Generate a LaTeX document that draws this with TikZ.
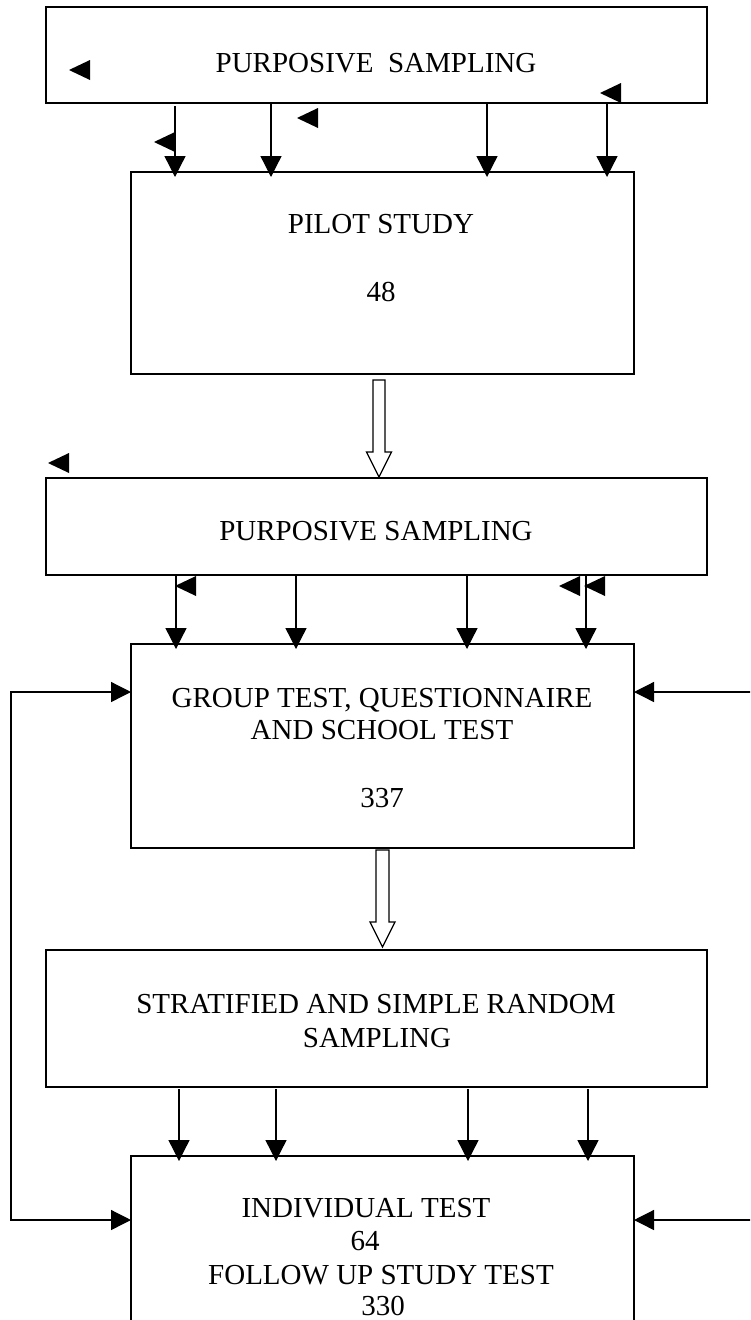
\documentclass[tikz,border=0pt]{standalone}
\usepackage{fontspec}
\setmainfont{Liberation Serif}
\usetikzlibrary{arrows.meta,calc}
\begin{document}
\begin{tikzpicture}[x=1pt,y=-1pt,
  box/.style={draw, line width=2.2pt, rectangle, inner sep=0pt, outer sep=0pt, anchor=north west},
  lbl/.style={anchor=base, inner sep=0pt, outer sep=0pt, font=\fontsize{29}{33}\selectfont},
  arr/.style={line width=1.3pt, -{Triangle[length=21pt,width=21pt]}, shorten >=-5pt},
  side/.style={line width=1.3pt, -{Triangle[length=20pt,width=20pt]}},
  plain/.style={line width=1.3pt},
  hollow/.style={draw, line width=1.3pt, fill=white, line join=miter},
  tri/.pic={\fill (0,0) -- (21,-10) -- (21,10) -- cycle;}]
\useasboundingbox (0,0) rectangle (750,1320);
\clip (0,0) rectangle (750,1320);
\fill[white] (0,0) rectangle (750,1320);

% boxes
\node[box, minimum width=661pt, minimum height=96pt]  (A) at (46,7) {};
\node[box, minimum width=503pt, minimum height=202pt] (B) at (131,172) {};
\node[box, minimum width=661pt, minimum height=97pt]  (C) at (46,478) {};
\node[box, minimum width=503pt, minimum height=204pt] (D) at (131,644) {};
\node[box, minimum width=661pt, minimum height=137pt] (E) at (46,950) {};
\node[box, minimum width=503pt, minimum height=220pt] (F) at (131,1156) {};

% texts
\node[lbl] (tA)  at (376,72)    {PURPOSIVE\ \ SAMPLING};
\node[lbl] (tB1) at (381,233)   {PILOT STUDY};
\node[lbl] (tB2) at (381,301)   {48};
\node[lbl] (tC)  at (376,540)   {PURPOSIVE SAMPLING};
\node[lbl] (tD1) at (382,707)   {GROUP TEST, QUESTIONNAIRE};
\node[lbl] (tD2) at (382,739.5) {AND SCHOOL TEST};
\node[lbl] (tD3) at (382,807)   {337};
\node[lbl] (tE1) at (376,1013)  {STRATIFIED AND SIMPLE RANDOM};
\node[lbl] (tE2) at (377,1047)  {SAMPLING};
\node[lbl] (tF1) at (366,1217)  {INDIVIDUAL TEST};
\node[lbl] (tF2) at (365,1250)  {64};
\node[lbl] (tF3) at (381,1284)  {FOLLOW UP STUDY TEST};
\node[lbl] (tF4) at (383,1315)  {330};

% x positions of the vertical arrows
\coordinate (a1) at (175,0); \coordinate (a2) at (271,0);
\coordinate (a3) at (487,0); \coordinate (a4) at (607,0);
\coordinate (c1) at (176,0); \coordinate (c2) at (296,0);
\coordinate (c3) at (467,0); \coordinate (c4) at (586,0);
\coordinate (e1) at (179,0); \coordinate (e2) at (276,0);
\coordinate (e3) at (468,0); \coordinate (e4) at (588,0);

\draw[arr] ([yshift=-3pt]A.south -| a1) -- (B.north -| a1);
\draw[arr] (A.south -| a2) -- (B.north -| a2);
\draw[arr] (A.south -| a3) -- (B.north -| a3);
\draw[arr] (A.south -| a4) -- (B.north -| a4);

\draw[arr] (C.south -| c1) -- (D.north -| c1);
\draw[arr] (C.south -| c2) -- (D.north -| c2);
\draw[arr] (C.south -| c3) -- (D.north -| c3);
\draw[arr] (C.south -| c4) -- (D.north -| c4);

\draw[arr] ([yshift=-2pt]E.south -| e1) -- (F.north -| e1);
\draw[arr] ([yshift=-2pt]E.south -| e2) -- (F.north -| e2);
\draw[arr] ([yshift=-2pt]E.south -| e3) -- (F.north -| e3);
\draw[arr] ([yshift=-2pt]E.south -| e4) -- (F.north -| e4);

% feedback arrows
\coordinate (Ltop) at (11,692);
\coordinate (Lbot) at (11,1220);
\coordinate (Rtop) at (760,692);
\coordinate (Rbot) at (760,1220);
\draw[plain] ([yshift=-0.65pt]Ltop) -- ([yshift=0.65pt]Lbot);
\draw[side] ([xshift=-0.65pt]Ltop) -- (D.west |- Ltop);
\draw[side] ([xshift=-0.65pt]Lbot) -- (F.west |- Lbot);
\draw[side] (Rtop) -- (D.east |- Rtop);
\draw[side] (Rbot) -- (F.east |- Rbot);

% hollow block arrows
\coordinate (o1) at (379,380);
\draw[hollow] ($(o1)+(-6,0)$) -- ($(o1)+(6,0)$) -- ($(o1)+(6,72)$) -- ($(o1)+(12.5,72)$)
  -- ($(o1)+(0,97)$) -- ($(o1)+(-12.5,72)$) -- ($(o1)+(-6,72)$) -- cycle;
\coordinate (o2) at (382.5,850);
\draw[hollow] ($(o2)+(-6.5,0)$) -- ($(o2)+(6.5,0)$) -- ($(o2)+(6.5,72)$) -- ($(o2)+(12.5,72)$)
  -- ($(o2)+(0,97)$) -- ($(o2)+(-12.5,72)$) -- ($(o2)+(-6.5,72)$) -- cycle;

% stray arrowheads
\pic at (69,70) {tri};
\pic at (600,93) {tri};
\pic at (297,118) {tri};
\pic at (154,142) {tri};
\pic at (48,463) {tri};
\pic at (175,586) {tri};
\pic at (559,586) {tri};
\pic at (584,586) {tri};
\end{tikzpicture}
\end{document}
